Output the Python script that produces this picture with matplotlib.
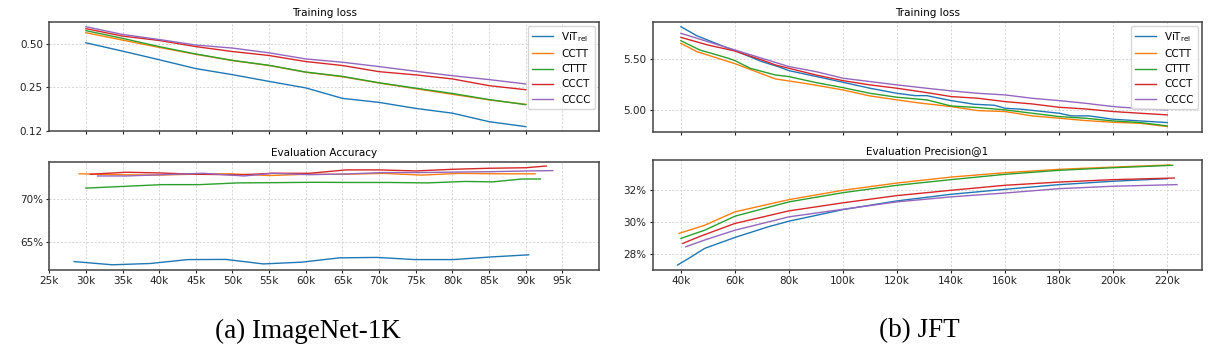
import matplotlib
matplotlib.use('Agg')
import matplotlib.pyplot as plt
from matplotlib.ticker import FixedLocator, FuncFormatter

# ---- ImageNet-1K: training loss (steps in k) ----
in_loss_steps = [30, 35, 40, 45, 50, 55, 60, 65, 70, 75, 80, 85, 90]
in_loss_vit = [0.508, 0.445, 0.388, 0.337, 0.306, 0.275, 0.248, 0.210, 0.197, 0.179, 0.166, 0.145, 0.134]
in_loss_cctt = [0.596, 0.530, 0.472, 0.423, 0.383, 0.354, 0.318, 0.296, 0.268, 0.245, 0.224, 0.205, 0.191]
in_loss_cttt = [0.616, 0.545, 0.478, 0.425, 0.384, 0.355, 0.319, 0.298, 0.269, 0.247, 0.227, 0.206, 0.190]
in_loss_ccct = [0.636, 0.565, 0.527, 0.478, 0.442, 0.415, 0.377, 0.354, 0.321, 0.305, 0.286, 0.257, 0.241]
in_loss_cccc = [0.656, 0.580, 0.535, 0.490, 0.467, 0.433, 0.393, 0.373, 0.348, 0.323, 0.301, 0.283, 0.264]

# ---- ImageNet-1K: evaluation accuracy (%) ----
in_acc_vit_x = [28.4, 33.6, 38.8, 43.9, 49.1, 54.2, 59.4, 64.6, 69.7, 74.9, 80.1, 85.2, 90.4]
in_acc_vit = [62.77, 62.40, 62.55, 63.00, 63.02, 62.50, 62.70, 63.20, 63.25, 63.00, 63.00, 63.30, 63.55]
in_acc_cctt_x = [29.1, 34.3, 39.5, 44.6, 49.8, 55.0, 60.2, 65.4, 70.6, 75.8, 80.9, 86.1, 91.3]
in_acc_cctt = [72.90, 72.80, 72.75, 72.85, 72.90, 72.70, 72.85, 72.85, 72.95, 72.75, 72.95, 72.90, 72.90]
in_acc_cttt_x = [30.0, 35.2, 40.4, 45.5, 50.7, 55.9, 61.0, 66.2, 71.4, 76.6, 81.7, 85.5, 89.5, 92.0]
in_acc_cttt = [71.25, 71.45, 71.65, 71.65, 71.85, 71.88, 71.92, 71.90, 71.90, 71.85, 72.02, 71.97, 72.30, 72.30]
in_acc_ccct_x = [30.6, 35.5, 40.0, 45.0, 51.0, 55.5, 60.5, 65.5, 70.0, 75.0, 80.0, 85.0, 90.0, 92.8]
in_acc_ccct = [72.85, 73.08, 73.00, 72.85, 72.78, 72.96, 72.96, 73.35, 73.35, 73.23, 73.42, 73.54, 73.60, 73.80]
in_acc_cccc_x = [31.6, 35.5, 40.5, 46.0, 51.6, 55.5, 60.5, 65.5, 70.5, 75.5, 80.5, 85.5, 90.5, 93.7]
in_acc_cccc = [72.65, 72.65, 72.80, 72.96, 72.65, 72.96, 72.80, 72.88, 73.04, 73.04, 73.10, 73.15, 73.23, 73.27]

# ---- JFT: training loss ----
jft_loss_vit_x = [40, 45.9, 56, 60, 70, 76, 80, 100, 110, 120, 126.6, 131, 140, 148.5, 156, 160, 166, 180, 184.5, 191, 200, 210, 220]
jft_loss_vit = [5.822, 5.733, 5.625, 5.586, 5.477, 5.428, 5.388, 5.273, 5.214, 5.164, 5.141, 5.141, 5.092, 5.056,
                5.046, 5.016, 5.007, 4.967, 4.941, 4.941, 4.908, 4.891, 4.875]
jft_loss_cctt_x = [40, 45.9, 60, 75, 80, 88, 100, 110, 120, 129, 140, 150, 160, 170, 180, 189.6, 200, 210, 220]
jft_loss_cctt = [5.658, 5.576, 5.457, 5.306, 5.286, 5.253, 5.197, 5.138, 5.099, 5.066, 5.033, 4.993, 4.984,
                 4.941, 4.918, 4.895, 4.878, 4.868, 4.836]
jft_loss_cttt_x = [40, 47, 57.6, 60, 65.7, 75, 80, 90, 100, 110, 120, 131, 140, 150, 160, 170, 180, 189.6, 200, 210, 220]
jft_loss_cttt = [5.684, 5.592, 5.510, 5.487, 5.411, 5.345, 5.329, 5.270, 5.220, 5.164, 5.125, 5.099, 5.039, 5.023,
                 5.000, 4.967, 4.934, 4.918, 4.891, 4.875, 4.842]
jft_loss_ccct_x = [40, 50, 60, 70, 75, 80, 90, 100, 110, 120, 131, 140, 150, 160, 170, 180, 189.6, 200, 210, 220]
jft_loss_ccct = [5.717, 5.641, 5.582, 5.493, 5.444, 5.411, 5.345, 5.289, 5.247, 5.214, 5.171, 5.132, 5.115, 5.082,
                 5.059, 5.026, 5.010, 4.984, 4.967, 4.951]
jft_loss_cccc_x = [40, 50, 60, 70, 80, 90, 100, 110, 120, 131, 140, 150, 160, 170, 180, 189.6, 200, 210, 220]
jft_loss_cccc = [5.757, 5.674, 5.592, 5.510, 5.428, 5.378, 5.313, 5.280, 5.247, 5.214, 5.188, 5.164, 5.148, 5.115,
                 5.092, 5.066, 5.033, 5.013, 5.000]

# ---- JFT: evaluation precision@1 (%) ----
jft_prec_vit_x = [38.8, 42.9, 48.8, 60, 72.3, 80, 100, 120, 140, 160, 180, 200, 220]
jft_prec_vit = [27.32, 27.73, 28.35, 29.03, 29.69, 30.04, 30.76, 31.30, 31.71, 32.02, 32.31, 32.52, 32.68]
jft_prec_cctt_x = [39.3, 48.8, 60, 80, 100, 120, 140, 160, 180, 200, 221]
jft_prec_cctt = [29.28, 29.79, 30.62, 31.38, 31.96, 32.41, 32.78, 33.05, 33.26, 33.40, 33.53]
jft_prec_cttt_x = [40, 48.8, 60, 80, 100, 120, 140, 160, 180, 200, 222]
jft_prec_cttt = [28.97, 29.48, 30.35, 31.24, 31.81, 32.27, 32.62, 32.95, 33.20, 33.36, 33.51]
jft_prec_ccct_x = [40.7, 47.3, 60, 80, 100, 120, 140, 160, 180, 200, 222.6]
jft_prec_ccct = [28.66, 29.11, 29.90, 30.68, 31.18, 31.63, 31.96, 32.27, 32.47, 32.62, 32.72]
jft_prec_cccc_x = [41.8, 48.8, 60, 80, 100, 120, 140, 160, 180, 200, 223.6]
jft_prec_cccc = [28.45, 28.87, 29.48, 30.31, 30.78, 31.24, 31.55, 31.79, 32.06, 32.21, 32.31]

labels = ['ViT$_\\mathrm{rel}$', 'CCTT', 'CTTT', 'CCCT', 'CCCC']
colors = ['#1f77b4', '#ff7f0e', '#2ca02c', '#d62728', '#9467bd']

plt.rcParams['font.family'] = ['DejaVu Sans']
plt.rcParams['font.size'] = 7.5

fig = plt.figure(figsize=(12.31, 3.52), dpi=100)
ax_a1 = fig.add_axes([0.0400, 0.6278, 0.4466, 0.3105])
ax_a2 = fig.add_axes([0.0400, 0.2330, 0.4466, 0.3077])
ax_b1 = fig.add_axes([0.5302, 0.6264, 0.4462, 0.3119])
ax_b2 = fig.add_axes([0.5302, 0.2330, 0.4462, 0.3125])


def style(ax):
    for s in ax.spines.values():
        s.set_color('#444444')
        s.set_linewidth(1.1)
    ax.grid(True, color='#cfcfcf', linestyle=(0, (2.5, 2)), linewidth=0.6)
    ax.set_axisbelow(True)
    ax.tick_params(direction='out', length=2.5, width=0.8, pad=2, labelsize=7.5, colors='#222222')


k = 1000

# (a) training loss
series = [in_loss_vit, in_loss_cctt, in_loss_cttt, in_loss_ccct, in_loss_cccc]
for ys, c, lab in zip(series, colors, labels):
    ax_a1.plot([s * k for s in in_loss_steps], ys, color=c, lw=1.0, label=lab)
ax_a1.set_yscale('log', base=2)
ax_a1.set_ylim(0.125, 0.71)
ax_a1.yaxis.set_major_locator(FixedLocator([0.125, 0.25, 0.5]))
ax_a1.yaxis.set_major_formatter(FuncFormatter(lambda v, p: '%.2f' % v))
ax_a1.yaxis.set_minor_locator(FixedLocator([]))
ax_a1.set_xlim(25 * k, 100 * k)
ax_a1.set_xticks([s * k for s in range(30, 91, 5)])
ax_a1.set_xticks([95 * k], minor=True)
ax_a1.set_xticklabels([])
ax_a1.set_title('Training loss', fontsize=7.5, pad=4)
style(ax_a1)
ax_a1.grid(True, which='minor', axis='x', color='#cfcfcf', linestyle=(0, (2.5, 2)), linewidth=0.6)
ax_a1.tick_params(which='minor', length=0)
ax_a1.legend(loc='upper right', fontsize=7.5, handlelength=2.0, borderaxespad=0.4)

# (a) evaluation accuracy
acc = [(in_acc_vit_x, in_acc_vit), (in_acc_cctt_x, in_acc_cctt), (in_acc_cttt_x, in_acc_cttt),
       (in_acc_ccct_x, in_acc_ccct), (in_acc_cccc_x, in_acc_cccc)]
for (xs, ys), c in zip(acc, colors):
    ax_a2.plot([x * k for x in xs], ys, color=c, lw=1.0)
ax_a2.set_xlim(25 * k, 100 * k)
ax_a2.set_ylim(61.8, 74.3)
ax_a2.set_xticks([s * k for s in range(25, 96, 5)])
ax_a2.set_xticklabels(['%dk' % s for s in range(25, 96, 5)])
ax_a2.set_yticks([65, 70])
ax_a2.set_yticklabels(['65%', '70%'])
ax_a2.set_title('Evaluation Accuracy', fontsize=7.5, pad=4)
style(ax_a2)

# (b) training loss
jl = [(jft_loss_vit_x, jft_loss_vit), (jft_loss_cctt_x, jft_loss_cctt), (jft_loss_cttt_x, jft_loss_cttt),
      (jft_loss_ccct_x, jft_loss_ccct), (jft_loss_cccc_x, jft_loss_cccc)]
for (xs, ys), c, lab in zip(jl, colors, labels):
    ax_b1.plot([x * k for x in xs], ys, color=c, lw=1.0, label=lab)
ax_b1.set_yticks([5.0, 5.5])
ax_b1.set_yticklabels(['5.00', '5.50'])
ax_b1.set_title('Training loss', fontsize=7.5, pad=4)
ax_b1.legend(loc='upper right', fontsize=7.5, handlelength=2.0, borderaxespad=0.4)

# (b) evaluation precision
jp = [(jft_prec_vit_x, jft_prec_vit), (jft_prec_cctt_x, jft_prec_cctt), (jft_prec_cttt_x, jft_prec_cttt),
      (jft_prec_ccct_x, jft_prec_ccct), (jft_prec_cccc_x, jft_prec_cccc)]
for (xs, ys), c in zip(jp, colors):
    ax_b2.plot([x * k for x in xs], ys, color=c, lw=1.0)
ax_b2.set_yticks([28, 30, 32])
ax_b2.set_yticklabels(['28%', '30%', '32%'])
ax_b2.set_title('Evaluation Precision@1', fontsize=7.5, pad=4)

# share the x range between the two JFT panels
ax_b1.set_xlim(ax_b2.get_xlim())
jft_ticks = list(range(40, 221, 20))
for ax in (ax_b1, ax_b2):
    ax.set_xticks([t * k for t in jft_ticks])
    style(ax)
ax_b1.set_xticklabels([])
ax_b2.set_xticklabels(['%dk' % t for t in jft_ticks])

fig.text(308 / 1231, 0.041, '(a) ImageNet-1K', ha='center', va='baseline',
         fontsize=19.5, family='Liberation Serif')
fig.text(919 / 1231, 0.041, '(b) JFT', ha='center', va='baseline',
         fontsize=19.5, family='Liberation Serif')

fig.savefig('out.png', dpi=100)
